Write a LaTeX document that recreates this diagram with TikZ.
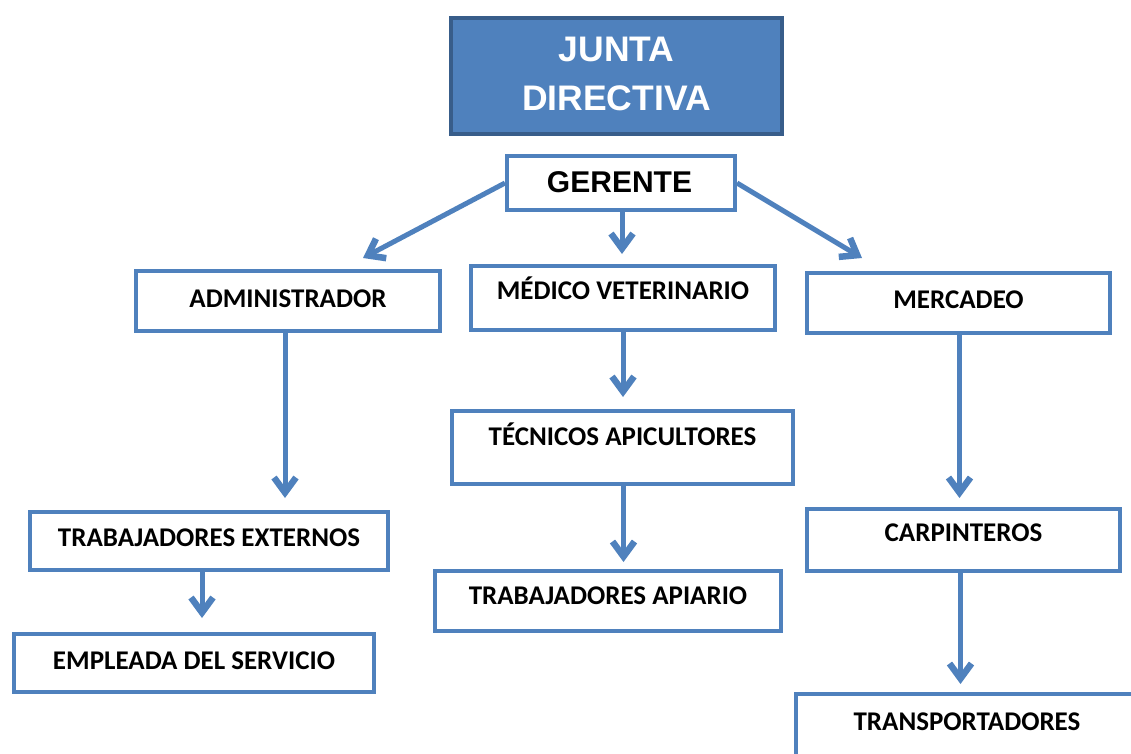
\documentclass[tikz,border=0pt]{standalone}
\usepackage{fontspec}
\setmainfont{Carlito}
\newfontfamily\arialf{Liberation Sans}
\usetikzlibrary{arrows.meta}
\definecolor{boxblue}{HTML}{4F81BD}
\definecolor{darkblue}{HTML}{385D8A}
\tikzset{
  orgbox/.style={draw=boxblue, line width=4pt, fill=white, inner sep=0pt, anchor=north west,
    font=\fontsize{27}{27}\selectfont\bfseries, align=center},
  juntabox/.style={draw=darkblue, fill=boxblue, line width=4pt, inner sep=0pt, anchor=north west,
    text=white, font=\arialf\fontsize{35.5}{49}\selectfont\bfseries, align=center},
  conn/.style={draw=boxblue, line width=5pt, -{Straight Barb[length=15pt,width=22pt,line width=6.5pt]}},
}
\begin{document}
\begin{tikzpicture}[x=1pt,y=-1pt]
\useasboundingbox (0,0) rectangle (1131,753);
\node[juntabox, minimum width=331pt, minimum height=116pt] (jd) at (449,16) {JUNTA\\DIRECTIVA\rule[-5pt]{0pt}{0pt}};
\node[orgbox, font=\arialf\fontsize{30}{30}\selectfont\bfseries, minimum width=228pt, text height=36.7pt, text depth=17.3pt] (ger) at (505,154) {GERENTE\hspace*{3pt}};
\node[orgbox, minimum width=304pt, text height=36.4pt, text depth=23.6pt] (adm) at (134,269) {ADMINISTRADOR};
\node[orgbox, minimum width=304pt, text height=33.4pt, text depth=30.6pt] (med) at (469,264) {MÉDICO VETERINARIO};
\node[orgbox, minimum width=303pt, text height=35.4pt, text depth=24.6pt] (mer) at (805,271) {MERCADEO};
\node[orgbox, minimum width=341pt, text height=34.4pt, text depth=38.6pt] (tec) at (450,409) {TÉCNICOS APICULTORES};
\node[orgbox, minimum width=346pt, text height=33.4pt, text depth=26.6pt] (tap) at (433,569) {TRABAJADORES APIARIO};
\node[orgbox, minimum width=358pt, text height=34.4pt, text depth=23.6pt] (tex) at (28,510) {TRABAJADORES EXTERNOS};
\node[orgbox, minimum width=360pt, text height=35.4pt, text depth=22.6pt] (emp) at (12,632) {EMPLEADA DEL SERVICIO};
\node[orgbox, minimum width=313pt, text height=32.4pt, text depth=29.6pt] (car) at (805,507) {CARPINTEROS};
\node[orgbox, minimum width=342pt, text height=36.4pt, text depth=41.6pt] (tra) at (794,692) {TRANSPORTADORES};
\coordinate (tipL) at (363,258);
\coordinate (tipR) at (862,258);
\draw[conn] (ger.west) -- (tipL);
\draw[conn] (ger.east) -- (tipR);
\draw[conn, shorten >=10pt] ([xshift=1pt]ger.south) -- ([xshift=1pt]ger.south |- med.north);
\draw[conn, shorten >=12pt] ([xshift=-3pt]adm.south) -- ([xshift=-3pt]adm.south |- tex.north);
\draw[conn, shorten >=12pt] (med.south) -- (med.south |- tec.north);
\draw[conn, shorten >=7pt] ([xshift=1pt]tec.south) -- ([xshift=1pt]tec.south |- tap.north);
\draw[conn, shorten >=9pt] ([xshift=1pt]mer.south) -- ([xshift=1pt]mer.south |- car.north);
\draw[conn, shorten >=14pt] ([xshift=-7pt]tex.south) -- ([xshift=-7pt]tex.south |- emp.north);
\draw[conn, shorten >=8pt] ([xshift=-3pt]car.south) -- ([xshift=-3pt]car.south |- tra.north);
\end{tikzpicture}
\end{document}
